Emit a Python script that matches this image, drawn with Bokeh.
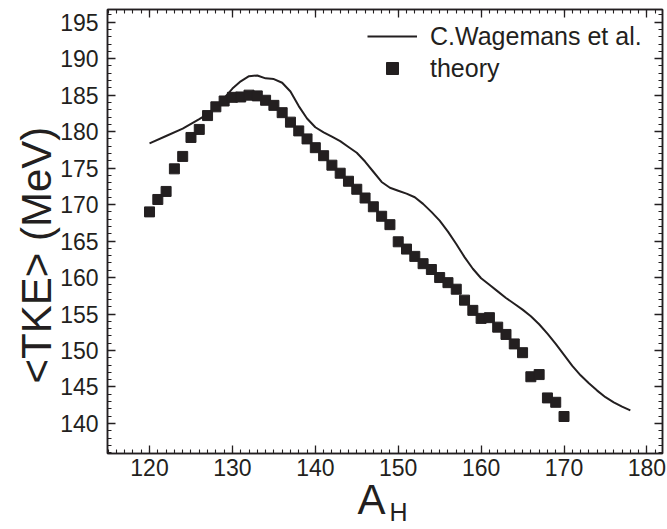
from bokeh.plotting import figure
from bokeh.models import (LinearAxis, SingleIntervalTicker, Range1d, Title,
                          Legend, LegendItem, CustomJSTickFormatter)
from bokeh.embed import file_html
from bokeh.resources import INLINE

# Measured mean total kinetic energy vs heavy fragment mass (C. Wagemans et al.)
exp_mass = [120, 122, 124, 126, 127, 128, 129, 130, 131, 132, 133, 134, 135,
            136, 137, 138, 139, 140, 141, 142, 143, 144, 145, 146, 147, 148,
            149, 150, 151, 152, 153, 154, 155, 156, 157, 158, 159, 160, 161,
            162, 163, 164, 165, 166, 167, 168, 169, 170, 171, 172, 173, 174,
            175, 176, 177, 178]
exp_tke = [178.4, 179.4, 180.4, 181.7, 182.4, 183.4, 184.6, 185.9, 186.9,
           187.6, 187.7, 187.3, 187.2, 186.7, 185.5, 183.5, 181.8, 180.6,
           179.9, 179.3, 178.7, 177.9, 177.1, 175.9, 174.5, 173.1, 172.3,
           171.9, 171.5, 171.0, 170.1, 169.0, 167.8, 166.3, 164.6, 162.8,
           161.2, 159.9, 159.0, 158.1, 157.2, 156.4, 155.6, 154.7, 153.6,
           152.3, 150.9, 149.4, 147.9, 146.6, 145.5, 144.5, 143.6, 142.9,
           142.3, 141.8]

# Calculated mean TKE
th_mass = list(range(120, 171))
th_tke = [169.0, 170.7, 171.8, 174.9, 176.6, 179.2, 180.3, 182.2, 183.4,
          184.2, 184.7, 184.75, 185.0, 184.9, 184.3, 183.6, 182.6, 181.3,
          180.1, 179.0, 177.8, 176.7, 175.4, 174.3, 173.2, 172.1, 170.9,
          169.7, 168.4, 167.25, 164.9, 163.9, 162.9, 161.9, 161.1, 160.0,
          159.3, 158.4, 156.9, 155.5, 154.4, 154.5, 153.2, 152.2, 150.9,
          149.7, 146.4, 146.7, 143.5, 142.9, 140.95]

INK = "#231f20"
FONT = "Liberation Sans"

p = figure(width=667, height=529, output_backend="svg", toolbar_location=None,
           x_range=Range1d(114.93, 181.88), y_range=Range1d(135.88, 196.74),
           min_border_left=107, min_border_right=5, min_border_top=9,
           min_border_bottom=76, x_axis_location=None, y_axis_location=None)
p.grid.visible = False
p.outline_line_color = INK
p.outline_line_width = 1.5
p.background_fill_color = "white"
p.border_fill_color = "white"

blank = CustomJSTickFormatter(code="return ''")


def style_axis(ax, labels=True):
    ax.axis_line_color = INK
    ax.axis_line_width = 1.5
    ax.major_tick_line_color = INK
    ax.minor_tick_line_color = INK
    ax.major_tick_line_width = 1.3
    ax.minor_tick_line_width = 1.1
    ax.major_tick_in = 8
    ax.major_tick_out = 0
    ax.minor_tick_in = 4
    ax.minor_tick_out = 0
    ax.major_label_text_font = FONT
    ax.major_label_text_font_size = "23px"
    ax.major_label_text_color = INK
    if not labels:
        ax.formatter = blank
        ax.major_label_standoff = 0


for loc, lab in (("below", True), ("above", False)):
    ax = LinearAxis(ticker=SingleIntervalTicker(interval=10, num_minor_ticks=10))
    style_axis(ax, lab)
    if lab:
        ax.major_label_standoff = 5
    p.add_layout(ax, loc)

for loc, lab in (("left", True), ("right", False)):
    ax = LinearAxis(ticker=SingleIntervalTicker(interval=5, num_minor_ticks=5))
    style_axis(ax, lab)
    if lab:
        ax.major_label_standoff = 9
    p.add_layout(ax, loc)

line_r = p.line(exp_mass, exp_tke, line_color=INK, line_width=2)
sq_r = p.scatter(th_mass, th_tke, marker="square", size=10,
                 fill_color=INK, line_color=INK)

legend = Legend(items=[LegendItem(label="C.Wagemans et al.", renderers=[line_r]),
                       LegendItem(label="theory", renderers=[sq_r])],
                location=(260, 370), padding=0, margin=0, spacing=2,
                glyph_width=50, glyph_height=30, label_height=30,
                label_standoff=13, label_text_font=FONT,
                label_text_font_size="25px", label_text_color=INK,
                border_line_color=None, background_fill_alpha=0)
p.add_layout(legend)

# Axis titles as side-panel titles
p.add_layout(Title(text="<TKE>  (MeV)", align="left", offset=70,
                   vertical_align="bottom", standoff=-4,
                   text_font=FONT, text_font_size="42px",
                   text_font_style="normal", text_color=INK), "left")
p.add_layout(Title(text="A", align="left", offset=250,
                   vertical_align="top", standoff=-6,
                   text_font=FONT, text_font_size="42px",
                   text_font_style="normal", text_color=INK), "below")
p.add_layout(Title(text="H", align="left", offset=282,
                   vertical_align="top", standoff=-48,
                   text_font=FONT, text_font_size="25px",
                   text_font_style="normal", text_color=INK), "below")

open("out.html", "w").write(file_html(p, INLINE))
